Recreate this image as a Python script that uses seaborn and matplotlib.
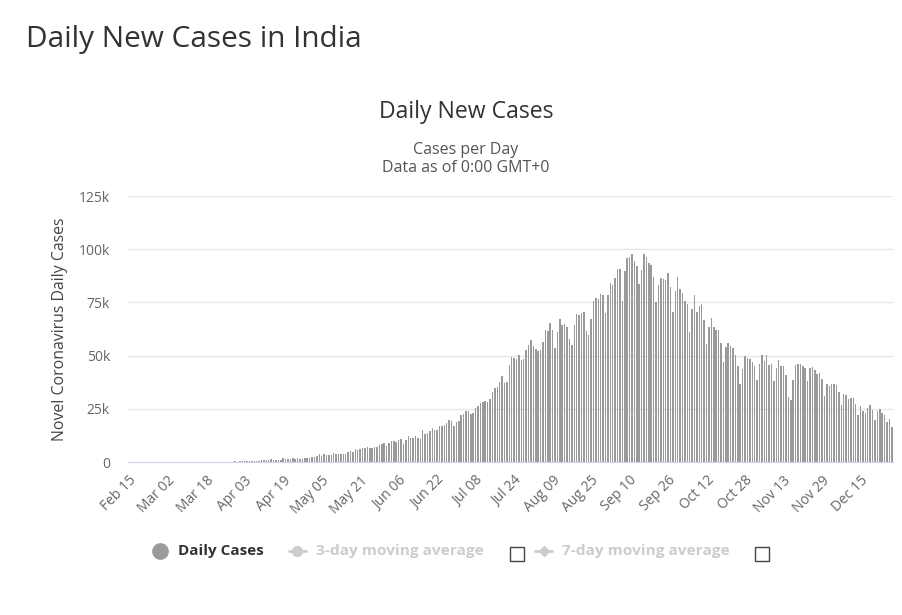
import numpy as np
import pandas as pd
import matplotlib
matplotlib.use('Agg')
import matplotlib.pyplot as plt
import seaborn as sns
from matplotlib.lines import Line2D
from matplotlib.patches import Rectangle

sns.set_style('white')
plt.rcParams['font.family'] = ['Open Sans', 'DejaVu Sans']

#### DATA ####
start_date = '2020-02-15'
feb = [0] * 15
mar = [0, 2, 1, 22, 2, 1, 3, 5, 4, 13, 6, 11, 9, 20, 11, 6, 23, 14, 38, 50, 86, 66,
       103, 37, 121, 70, 160, 100, 82, 309, 165]
apr = [437, 235, 478, 525, 505, 704, 508, 485, 591, 896, 768, 918, 905, 1463, 1054,
       1034, 835, 1108, 1893, 1239, 1537, 1297, 1667, 1408, 1835, 1607, 1561, 1902,
       1705, 1801]
may = [2396, 2564, 2952, 3656, 2971, 3602, 3344, 3339, 3175, 4311, 3592, 3562, 3726,
       3943, 3787, 4864, 5050, 4630, 6147, 5553, 6198, 6568, 6629, 7111, 6414, 6387,
       7246, 7254, 8138, 8364, 8789]
jun = [7723, 8812, 9689, 9847, 9471, 10438, 10864, 8442, 10218, 12375, 11128, 11320,
       12023, 11502, 10667, 14933, 13103, 13827, 14721, 15915, 15183, 14821, 16870,
       16922, 17296, 18552, 19906, 19459, 16868, 18641]
jul = [19428, 21947, 22718, 24018, 23942, 22510, 23135, 25561, 26506, 27761, 28178,
       28701, 28179, 29429, 32682, 34956, 35252, 37407, 40243, 37148, 37724, 45720,
       49310, 48916, 48472, 50072, 47703, 48513, 52479, 55079, 57117]
aug = [54735, 52972, 52050, 52509, 56282, 62170, 61455, 65156, 62117, 53601, 60963,
       66999, 64553, 65002, 63489, 57981, 55079, 64531, 69652, 68900, 69878, 70488,
       61408, 59696, 67151, 75760, 77266, 76472, 78761, 78512, 69921]
sep = [78357, 83883, 83341, 86432, 90633, 90802, 75809, 89706, 95735, 96551, 97570,
       94372, 92071, 83809, 90123, 97894, 96424, 93337, 92605, 86961, 75083, 83347,
       86508, 86052, 85362, 88600, 82170, 70589, 80472, 86821]
oct_ = [81484, 79476, 75829, 74442, 61267, 72049, 78524, 70496, 73272, 74383, 66732,
        55342, 63509, 67708, 63371, 62212, 61871, 55722, 46790, 54044, 55839, 54366,
        53370, 50129, 45148, 36470, 43893, 49881, 48648, 48268, 46963]
nov = [45231, 38310, 46253, 50210, 47638, 50357, 45674, 45903, 38074, 44281, 47905,
       44879, 44878, 41100, 30548, 29164, 38617, 45576, 45882, 46232, 45209, 44059,
       37975, 44376, 44489, 43082, 41322, 41810, 38772, 31118]
dec = [36604, 35551, 36595, 36652, 36011, 32981, 26567, 32080, 31522, 29398, 30006,
       30254, 27071, 22065, 26382, 24010, 22890, 25152, 26624, 24337, 19556, 23950,
       24712, 23067, 22272, 18732, 20021, 16432]

cases = feb + mar + apr + may + jun + jul + aug + sep + oct_ + nov + dec
dates = pd.date_range(start_date, periods=len(cases), freq='D')
df = pd.DataFrame({'date': dates.strftime('%b %d'), 'cases': cases})

y_ticks = [0, 25000, 50000, 75000, 100000, 125000]
y_tick_labels = ['0', '25k', '50k', '75k', '100k', '125k']

#### PLOT ####
fig = plt.figure(figsize=(9.03, 6.15), dpi=100)
ax = fig.add_axes([128 / 903, 1 - 462 / 615, 765 / 903, 266 / 615])

sns.barplot(data=df, x='date', y='cases', color='#9a9a9a', saturation=1,
            width=0.62, linewidth=0, ax=ax)

ax.set_xlim(-0.5, len(cases) - 0.5)
ax.set_ylim(0, 125000)
ax.set_yticks(y_ticks)
ax.set_yticklabels(y_tick_labels)
ax.yaxis.grid(True, color='#e6e6e6', linewidth=1)
ax.set_axisbelow(True)

tick_pos = list(range(0, len(cases), 16))
ax.set_xticks(tick_pos)
ax.set_xticklabels(df['date'].iloc[tick_pos], rotation=45, ha='right',
                   rotation_mode='anchor', fontsize=10, color='#666666')
ax.tick_params(axis='x', length=0, pad=8)
ax.tick_params(axis='y', length=0, pad=13, labelsize=10, labelcolor='#666666')

for s in ['top', 'right', 'left']:
    ax.spines[s].set_visible(False)
ax.spines['bottom'].set_color('#ccd6eb')
ax.set_xlabel('')
ax.set_ylabel('Novel Coronavirus Daily Cases', fontsize=11.4, color='#444444',
              labelpad=8)

#### TITLES ####
fig.text(26 / 903, 1 - 39 / 615, 'Daily New Cases in India', fontsize=21.4,
         color='#333333', va='center', ha='left')
fig.text(466 / 903, 1 - 112 / 615, 'Daily New Cases', fontsize=16.6,
         color='#333333', va='center', ha='center')
fig.text(466 / 903, 1 - 150 / 615, 'Cases per Day', fontsize=11.5,
         color='#555555', va='center', ha='center')
fig.text(466 / 903, 1 - 168 / 615, 'Data as of 0:00 GMT+0', fontsize=11.5,
         color='#555555', va='center', ha='center')

#### LEGEND ####
ly = 1 - 551 / 615
fig.add_artist(Line2D([160 / 903], [ly], marker='o', markersize=11,
                      color='#9a9a9a', linestyle='none'))
fig.text(178 / 903, ly, 'Daily Cases', fontsize=11, fontweight='bold',
         color='#333333', va='center')
fig.add_artist(Line2D([289 / 903, 306 / 903], [ly, ly], color='#cccccc', lw=2))
fig.add_artist(Line2D([297.5 / 903], [ly], marker='o', markersize=7,
                      color='#cccccc', linestyle='none'))
fig.text(316 / 903, ly, '3-day moving average', fontsize=11.1, fontweight='bold',
         color='#cccccc', va='center')
fig.add_artist(Line2D([535 / 903, 552 / 903], [ly, ly], color='#cccccc', lw=2))
fig.add_artist(Line2D([543.5 / 903], [ly], marker='D', markersize=5,
                      color='#cccccc', linestyle='none'))
fig.text(562 / 903, ly, '7-day moving average', fontsize=11.1, fontweight='bold',
         color='#cccccc', va='center')
for cx in [517, 762]:
    fig.add_artist(Rectangle(((cx - 7) / 903, 1 - 561 / 615), 14 / 903, 14 / 615,
                             facecolor='white', edgecolor='#444444', lw=1))

fig.savefig('out.png', dpi=100)
